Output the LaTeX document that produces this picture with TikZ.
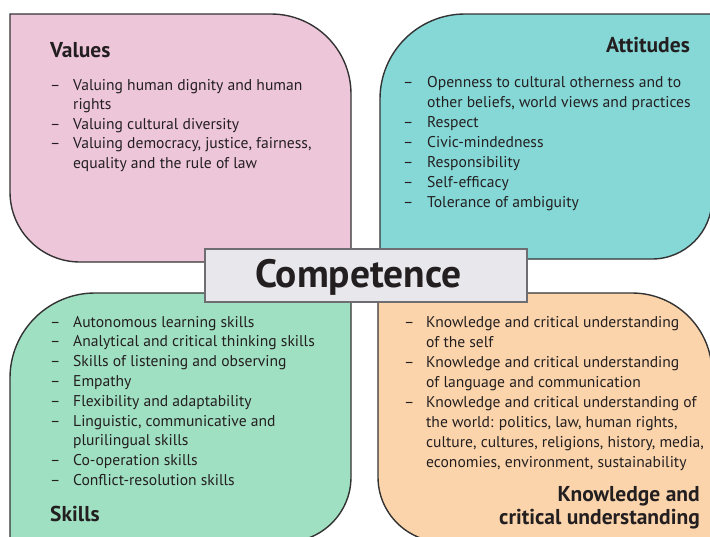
\documentclass[tikz,border=0pt]{standalone}
\usepackage{fontspec}
\setmainfont{PT Sans}
\usepackage{array}
\definecolor{pinkf}{HTML}{EEC6DA}
\definecolor{tealf}{HTML}{86D8D7}
\definecolor{greenf}{HTML}{A0E0C2}
\definecolor{orangef}{HTML}{FBD4AB}
\definecolor{compf}{HTML}{E8E8EC}
\definecolor{compd}{HTML}{6E6E72}
\definecolor{edge}{HTML}{333333}
\definecolor{txt}{HTML}{231F20}
\tikzset{
  leaf/.style={draw=edge, line width=1.4pt},
  listtext/.style={inner sep=0pt, anchor=north west, text=txt},
  titletext/.style={inner sep=0pt, text=txt, font=\fontsize{21.5}{24}\selectfont\bfseries},
  compbox/.style={draw=compd, fill=compf, line width=1.2pt, minimum width=322pt, minimum height=53pt, inner sep=0pt},
  comptext/.style={inner sep=0pt, text=txt, font=\fontsize{39.5}{42}\selectfont\bfseries}
}
\begin{document}
\begin{tikzpicture}[x=1pt,y=1pt]
\useasboundingbox (0,0) rectangle (710,-536);
\clip (0,0) rectangle (710,-536);
% Values
\draw[leaf, fill=pinkf] (10,-14) -- (271,-14) arc[start angle=90, end angle=0, radius=80]
  -- (351,-262) -- (80,-262) arc[start angle=270, end angle=180, radius=70] -- cycle;
% Attitudes
\draw[leaf, fill=tealf] (380,-99) arc[start angle=180, end angle=90, radius=85]
  -- (712,-14) -- (712,-199) arc[start angle=0, end angle=-90, radius=60] -- (380,-259) -- cycle;
% Skills
\draw[leaf, fill=greenf] (10,-542) -- (10,-378) arc[start angle=180, end angle=90, radius=85]
  -- (351,-293) -- (351,-477) arc[start angle=0, end angle=-90, radius=65] -- cycle;
% Knowledge
\draw[leaf, fill=orangef] (378,-293) -- (632,-293) arc[start angle=90, end angle=0, radius=80]
  -- (712,-542) -- (443,-542) arc[start angle=270, end angle=180, radius=65] -- cycle;

% Titles
\node[titletext, anchor=base west] (tval) at (50,-57) {Values};
\node[titletext, anchor=base east] (tatt) at (690,-52) {Attitudes};
\node[titletext, anchor=base west] (tski) at (50,-521) {Skills};
\node[titletext, anchor=base east] (tkn1) at (700,-501) {Knowledge and};
\node[titletext, anchor=base east] (tkn2) at (700,-524) {critical understanding};

% Lists
\node[listtext, font=\fontsize{15.6}{19.5}\selectfont] (lval) at (50,-76.4) {%
\begin{tabular}{@{}p{23pt}@{}l@{}}
–& Valuing human dignity and human\\
 & rights\\
–& Valuing cultural diversity\\
–& Valuing democracy, justice, fairness,\\
 & equality and the rule of law
\end{tabular}};

\node[listtext, font=\fontsize{15.6}{20}\selectfont] (latt) at (403,-73) {%
\begin{tabular}{@{}p{24pt}@{}l@{}}
–& Openness to cultural otherness and to\\
 & other beliefs, world views and practices\\
–& Respect\\
–& Civic-mindedness\\
–& Responsibility\\
–& Self-efficacy\\
–& Tolerance of ambiguity
\end{tabular}};

\node[listtext, font=\fontsize{15.6}{19.8}\selectfont] (lski) at (50,-313) {%
\begin{tabular}{@{}p{23pt}@{}l@{}}
–& Autonomous learning skills\\
–& Analytical and critical thinking skills\\
–& Skills of listening and observing\\
–& Empathy\\
–& Flexibility and adaptability\\
–& Linguistic, communicative and\\
 & plurilingual skills\\
–& Co-operation skills\\
–& Conflict-resolution skills
\end{tabular}};

\node[listtext, font=\fontsize{15.6}{20}\selectfont] (lkno) at (404,-313) {%
\begin{tabular}{@{}p{22pt}@{}l@{}}
–& Knowledge and critical understanding\\
 & of the self\\
–& Knowledge and critical understanding\\
 & of language and communication\\
–& Knowledge and critical understanding of\\
 & the world: politics, law, human rights,\\
 & culture, cultures, religions, history, media,\\
 & economies, environment, sustainability
\end{tabular}};

% Competence
\node[compbox] (comp) at (366,-275.5) {};
\node[comptext, anchor=base] (comptxt) at (358.5,-287) {Competence};
\end{tikzpicture}
\end{document}
